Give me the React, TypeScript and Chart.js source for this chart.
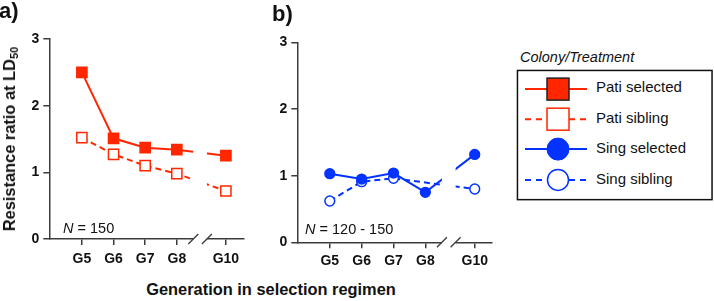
import React, { useEffect, useRef } from 'react';
import { Chart, registerables } from 'chart.js';

Chart.register(...registerables);

// ---------- data ----------
const generations = ['G5', 'G6', 'G7', 'G8', 'G10'];
const generationNumbers = [5, 6, 7, 8, 10];
const patiSelected = [2.5, 1.51, 1.37, 1.34, 1.25];
const patiSibling = [1.52, 1.27, 1.1, 0.98, 0.72];
const singSelected = [1.03, 0.95, 1.04, 0.75, 1.32];
const singSibling: (number | null)[] = [0.62, 0.91, 0.96, null, 0.8];
const yTicks = [0, 1, 2, 3];
const legendLabels = ['Pati selected', 'Pati sibling', 'Sing selected', 'Sing sibling'];

// ---------- style ----------
const FONT = "'Liberation Sans', Arial, Helvetica, sans-serif";
const RED = '#FF2600';
const BLUE = '#0433FF';
const AXIS = '#3c3c3c';
const TEXT = '#111111';

// broken x axis: generations after G8 are shifted left by the break
const BREAK_SHIFT = 0.45;
const BREAK_START = 8.52;
const BREAK_END = 8.95;
const axisPos = (g: number) => (g > 8 ? g - BREAK_SHIFT : g);

Chart.defaults.font.family = FONT;

const breakPlugin = {
  id: 'axisBreak',
  afterDraw(chart: any) {
    const { ctx, chartArea, scales } = chart;
    const x = scales.x;
    const x1 = x.getPixelForValue(BREAK_START);
    const x2 = x.getPixelForValue(BREAK_END);
    ctx.save();
    ctx.fillStyle = '#ffffff';
    ctx.fillRect(x1, chartArea.top - 10, x2 - x1, chartArea.bottom - chartArea.top + 12);
    ctx.strokeStyle = AXIS;
    ctx.lineWidth = 1.3;
    for (const px of [x1, x2]) {
      ctx.beginPath();
      ctx.moveTo(px - 5, chartArea.bottom + 5);
      ctx.lineTo(px + 5, chartArea.bottom - 5);
      ctx.stroke();
    }
    ctx.restore();
  },
};

type PanelCfg = {
  left: number;
  top: number;
  w: number;
  h: number;
  padTop: number;
  padRight: number;
  yWidth: number;
  xHeight: number;
  xMin: number;
  xMax: number;
  tickPad: number;
};

function toPoints(values: (number | null)[]) {
  return generationNumbers.map((g, i) => ({ x: axisPos(g), y: values[i] }));
}

function lineDataset(values: (number | null)[], color: string, filled: boolean, dashed: boolean, style: string) {
  const isRect = style === 'rect';
  return {
    data: toPoints(values),
    borderColor: color,
    backgroundColor: color,
    borderWidth: 2,
    borderDash: dashed ? [6, 4] : [],
    pointStyle: style,
    pointRadius: isRect ? 7.2 : 4.9,
    pointBorderWidth: 1.5,
    pointBorderColor: color,
    pointBackgroundColor: filled ? color : '#ffffff',
    spanGaps: true,
    tension: 0,
  };
}

function PanelChart({ datasets, cfg }: { datasets: any[]; cfg: PanelCfg }) {
  const ref = useRef<HTMLCanvasElement>(null);
  useEffect(() => {
    const chart = new Chart(ref.current as HTMLCanvasElement, {
      type: 'line',
      data: { datasets },
      options: {
        animation: false,
        responsive: false,
        devicePixelRatio: 1,
        events: [],
        layout: { padding: { top: cfg.padTop, right: cfg.padRight, left: 0, bottom: 0 } },
        plugins: { legend: { display: false }, tooltip: { enabled: false } },
        scales: {
          x: {
            type: 'linear',
            min: cfg.xMin,
            max: cfg.xMax,
            afterFit: (s: any) => {
              s.height = cfg.xHeight;
            },
            afterBuildTicks: (s: any) => {
              s.ticks = generationNumbers.map((g) => ({ value: axisPos(g) }));
            },
            ticks: {
              autoSkip: false,
              maxRotation: 0,
              padding: cfg.tickPad,
              color: TEXT,
              font: { family: FONT, size: 14, weight: 'bold' },
              callback: (v: any) => {
                const i = generationNumbers.findIndex((g) => Math.abs(axisPos(g) - Number(v)) < 1e-6);
                return i >= 0 ? generations[i] : '';
              },
            },
            grid: { drawOnChartArea: false, drawTicks: true, tickLength: 6, color: AXIS, lineWidth: 1.5 },
            border: { display: true, color: AXIS, width: 1.5 },
          },
          y: {
            type: 'linear',
            min: 0,
            max: 3,
            afterFit: (s: any) => {
              s.width = cfg.yWidth;
            },
            afterBuildTicks: (s: any) => {
              s.ticks = yTicks.map((v) => ({ value: v }));
            },
            ticks: {
              padding: 4,
              color: TEXT,
              font: { family: FONT, size: 14, weight: 'bold' },
            },
            grid: { drawOnChartArea: false, drawTicks: true, tickLength: 6, color: AXIS, lineWidth: 1.5 },
            border: { display: true, color: AXIS, width: 1.5 },
          },
        },
      } as any,
      plugins: [breakPlugin],
    });
    return () => chart.destroy();
  }, []);
  return (
    <canvas
      ref={ref}
      width={cfg.w}
      height={cfg.h}
      style={{ position: 'absolute', left: cfg.left, top: cfg.top, width: cfg.w, height: cfg.h }}
    />
  );
}

const panelA: PanelCfg = {
  left: 0, top: 0, w: 252, h: 275,
  padTop: 39, padRight: 2, yWidth: 49.3, xHeight: 36,
  xMin: 3.97, xMax: 10.1, tickPad: 5.3,
};
const panelB: PanelCfg = {
  left: 252, top: 0, w: 246, h: 278,
  padTop: 42.5, padRight: 1.3, yWidth: 45.3, xHeight: 35.7,
  xMin: 3.98, xMax: 10.08, tickPad: 4.3,
};

const abs = (left: number, top: number, extra: any = {}) => ({
  position: 'absolute' as const,
  left,
  top,
  whiteSpace: 'nowrap' as const,
  color: TEXT,
  fontFamily: FONT,
  ...extra,
});

function Legend() {
  const markerY = [19.4, 49.5, 79.4, 110.2];
  const textY = [21.8, 53.6, 83.6, 114.4];
  const colors = [RED, RED, BLUE, BLUE];
  return (
    <svg
      width={197}
      height={132}
      style={{ position: 'absolute', left: 516, top: 68.6 }}
    >
      <rect x={1.45} y={1.45} width={194.6} height={129.2} fill="#ffffff" stroke="#111" strokeWidth={1.5} />
      {legendLabels.map((lab, i) => {
        const c = colors[i];
        const dashed = i % 2 === 1;
        const my = markerY[i] + 0.7;
        const cx = 42;
        return (
          <g key={lab}>
            <line
              x1={9}
              x2={71}
              y1={my}
              y2={my}
              stroke={c}
              strokeWidth={2}
              strokeDasharray={dashed ? '6 5' : undefined}
            />
            {i === 0 && <rect x={cx - 11} y={my - 11} width={22} height={22} fill={RED} stroke="#222" strokeWidth={1.5} />}
            {i === 1 && <rect x={cx - 11} y={my - 11} width={22} height={22} fill="#ffffff" stroke={RED} strokeWidth={1.5} />}
            {i === 2 && <circle cx={cx} cy={my} r={11} fill={BLUE} stroke={BLUE} strokeWidth={1} />}
            {i === 3 && <circle cx={cx} cy={my} r={10.5} fill="#ffffff" stroke={BLUE} strokeWidth={1.5} />}
            <text x={80} y={textY[i] + 0.7} fontFamily={FONT} fontSize={15} fill={TEXT}>
              {lab}
            </text>
          </g>
        );
      })}
    </svg>
  );
}

export default function App() {
  const datasetsA = [
    lineDataset(patiSelected, RED, true, false, 'rect'),
    lineDataset(patiSibling, RED, false, true, 'rect'),
  ];
  const datasetsB = [
    lineDataset(singSelected, BLUE, true, false, 'circle'),
    lineDataset(singSibling, BLUE, false, true, 'circle'),
  ];
  return (
    <div style={{ position: 'absolute', left: 0, top: 0, width: 714, height: 301, background: '#fff', overflow: 'hidden' }}>
      <PanelChart datasets={datasetsA} cfg={panelA} />
      <PanelChart datasets={datasetsB} cfg={panelB} />

      <div style={abs(-1, -0.3, { fontSize: 22, fontWeight: 'bold', lineHeight: '22px' })}>a)</div>
      <div style={abs(272, 3.1, { fontSize: 22, fontWeight: 'bold', lineHeight: '22px' })}>b)</div>

      <div
        style={abs(9.3, 139.3, {
          fontSize: 16.4,
          fontWeight: 'bold',
          lineHeight: '16px',
          transform: 'translate(-50%, -50%) rotate(-90deg)',
        })}
      >
        Resistance ratio at LD
        <sub style={{ fontSize: 11, lineHeight: 0, verticalAlign: '-3px' }}>50</sub>
      </div>

      <div style={abs(63, 221.2, { fontSize: 14.5, lineHeight: '14.5px' })}>
        <i>N</i> = 150
      </div>
      <div style={abs(305, 221.6, { fontSize: 14.5, lineHeight: '14.5px' })}>
        <i>N</i> = 120 - 150
      </div>

      <div
        style={abs(271, 281.2, {
          fontSize: 16.4,
          fontWeight: 'bold',
          lineHeight: '16px',
          transform: 'translateX(-50%)',
        })}
      >
        Generation in selection regimen
      </div>

      <div style={abs(520, 49.6, { fontSize: 14.5, fontStyle: 'italic', lineHeight: '14px' })}>Colony/Treatment</div>
      <Legend />
    </div>
  );
}
